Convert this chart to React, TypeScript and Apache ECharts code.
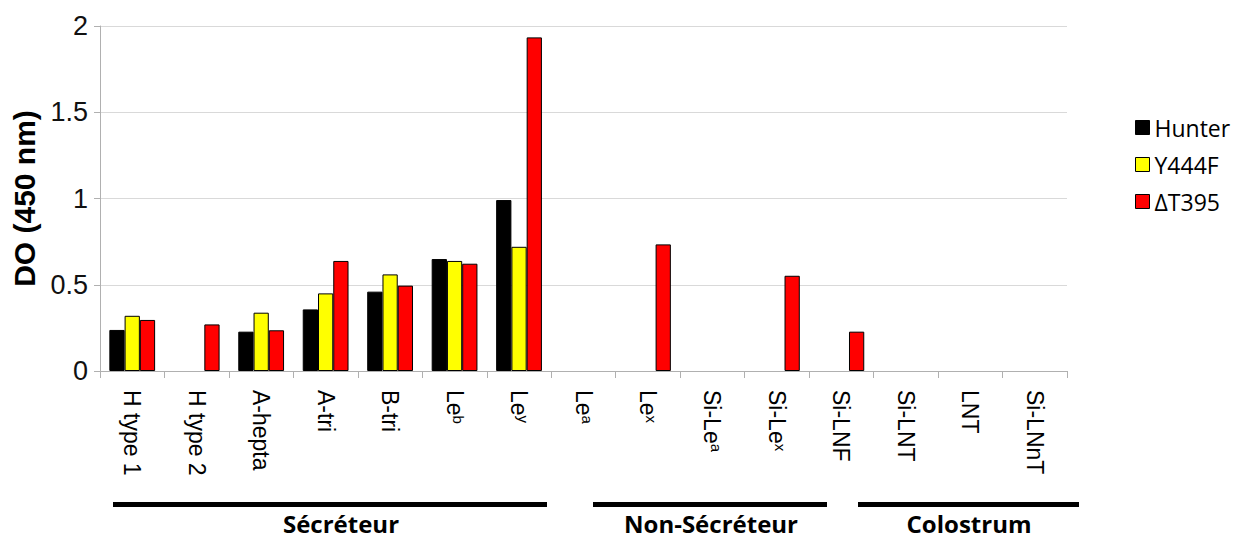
import React, { useEffect, useRef } from "react";
import * as echarts from "echarts";

const categories = [
  "H type 1", "H type 2", "A-hepta", "A-tri", "B-tri", "Le^b", "Le^y",
  "Le^a", "Le^x", "Si-Le^a", "Si-Le^x", "Si-LNF", "Si-LNT", "LNT", "Si-LNnT",
];
const hunter = [0.238, null, 0.228, 0.357, 0.46, 0.649, 0.991, null, null, null, null, null, null, null, null];
const y444f = [0.32, null, 0.338, 0.45, 0.56, 0.638, 0.72, null, null, null, null, null, null, null, null];
const dT395 = [0.296, 0.27, 0.236, 0.638, 0.495, 0.622, 1.934, null, 0.734, null, 0.552, 0.228, null, null, null];
const seriesNames = ["Hunter", "Y444F", "ΔT395"];
const seriesColors = ["#000000", "#FFFF00", "#FF0000"];
const yTicks = { min: 0, max: 2, interval: 0.5 };
const groups = [
  { label: "Sécréteur", x1: 113, x2: 547, cx: 341 },
  { label: "Non-Sécréteur", x1: 593, x2: 827, cx: 711 },
  { label: "Colostrum", x1: 858, x2: 1079, cx: 969 },
];

export default function App() {
  const ref = useRef<HTMLDivElement>(null);
  useEffect(() => {
    const chart = echarts.init(ref.current!, null, { renderer: "svg" });
    const data = [hunter, y444f, dT395];
    chart.setOption({
      animation: false,
      backgroundColor: "#ffffff",
      grid: { left: 100, right: 176, top: 26, bottom: 170, containLabel: false },
      legend: {
        orient: "vertical",
        left: 1130,
        top: 111,
        itemWidth: 14,
        itemHeight: 14,
        itemGap: 14,
        icon: "rect",
        textStyle: { fontFamily: "Open Sans", fontSize: 23, color: "#000", lineHeight: 22 },
        itemStyle: { borderColor: "#000", borderWidth: 1 },
        data: seriesNames,
      },
      xAxis: {
        type: "category",
        data: categories,
        boundaryGap: true,
        axisLine: { show: true, lineStyle: { color: "#b0b0b0", width: 1 } },
        axisTick: { show: true, interval: 0, length: 7, lineStyle: { color: "#b0b0b0" } },
        axisLabel: {
          interval: 0,
          rotate: -90,
          margin: 19,
          width: 300,
          overflow: "none",
          hideOverlap: false,
          fontFamily: "Liberation Sans",
          fontSize: 23,
          color: "#000",
          formatter: (v: string) => v.replace(/\^(\w)/, "{sup|$1}"),
          rich: {
            sup: { fontFamily: "Liberation Sans", fontSize: 15, verticalAlign: "top", color: "#000" },
          },
        },
      },
      yAxis: {
        type: "value",
        min: yTicks.min,
        max: yTicks.max,
        interval: yTicks.interval,
        name: "DO (450 nm)",
        nameLocation: "middle",
        nameGap: 60,
        nameTextStyle: { fontFamily: "Liberation Sans", fontWeight: "bold", fontSize: 30, color: "#000" },
        axisLine: { show: true, lineStyle: { color: "#b0b0b0", width: 1 } },
        axisTick: { show: true, length: 6, lineStyle: { color: "#b0b0b0" } },
        splitLine: { show: true, lineStyle: { color: "#d9d9d9", width: 1 } },
        axisLabel: { fontFamily: "Liberation Sans", fontSize: 27, color: "#111", margin: 12 },
      },
      series: seriesNames.map((name, i) => ({
        name,
        type: "bar",
        data: data[i],
        barGap: "0%",
        barCategoryGap: "29%",
        itemStyle: { color: seriesColors[i], borderColor: "#000", borderWidth: 1 },
      })),
      graphic: groups.flatMap((g) => [
        {
          type: "rect",
          shape: { x: g.x1, y: 502, width: g.x2 - g.x1, height: 5 },
          style: { fill: "#000" },
        },
        {
          type: "text",
          x: g.cx,
          y: 523,
          style: {
            text: g.label,
            fontFamily: "Open Sans",
            fontWeight: "bold",
            fontSize: 24,
            lineHeight: 24,
            fill: "#000",
            textAlign: "center",
            textVerticalAlign: "middle",
          },
        },
      ]),
    });
    return () => chart.dispose();
  }, []);
  return <div ref={ref} style={{ width: 1243, height: 541, position: "absolute", left: 0, top: 0 }} />;
}
